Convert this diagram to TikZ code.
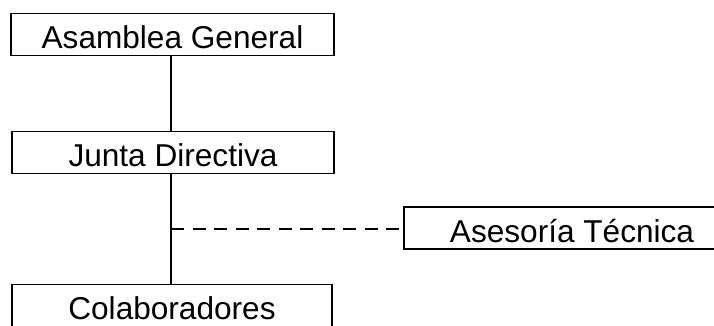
\documentclass[tikz,border=0pt]{standalone}
\usepackage{fontspec}
\setmainfont{Liberation Sans}
\usepackage{tikz}

\begin{document}
\begin{tikzpicture}[x=1pt, y=-1pt, line width=1.8pt,
    orgbox/.style={draw, rectangle, inner sep=0pt, minimum height=42pt,
        text height=28pt, text depth=0pt,
        font=\fontsize{31.6}{36}\selectfont}]
            \useasboundingbox (0,0) rectangle (714,326);

            % Define boxes
            \node[orgbox, minimum width=323pt] (AG) at (172.5, 34.5) {Asamblea General};
            \node[orgbox, minimum width=322pt] (JD) at (173, 152.5) {Junta Directiva};
            \node[orgbox, minimum width=320pt] (CO) at (172, 305.5) {Colaboradores};
            \node[orgbox, minimum width=336pt] (AT) at (572, 228) {Asesoría Técnica};
            \coordinate (J) at (171, 229);

            % Draw connections
            \draw (AG.south -| J) -- (JD.north -| J);
            \draw (JD.south -| J) -- (CO.north -| J);
            \draw[dash pattern=on 13pt off 8.5pt] (J) -- (J -| AT.west);
        \end{tikzpicture}
\end{document}
